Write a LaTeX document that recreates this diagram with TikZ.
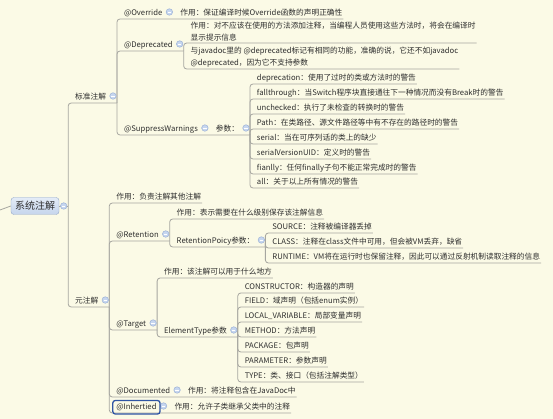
\documentclass[tikz,border=0pt]{standalone}
\usepackage{fontspec}
\setmainfont{Noto Sans CJK SC}
\usepackage{tikz}
\usetikzlibrary{positioning,calc,fit}
\definecolor{mapbg}{HTML}{FBFAE6}
\definecolor{linkgray}{HTML}{A6A6A0}
\definecolor{textgray}{HTML}{2E2E2E}
\definecolor{foldfill}{HTML}{C6D6EF}
\definecolor{foldedge}{HTML}{9DB2D6}
\definecolor{roottop}{HTML}{E4ECF7}
\definecolor{rootbot}{HTML}{C5D5EC}
\definecolor{rootedge}{HTML}{93A8C8}
\definecolor{selblue}{HTML}{2F55A4}

\begin{document}
\begin{tikzpicture}[x=1pt,y=-1pt,
  topic/.style={anchor=south west,inner xsep=1pt,inner ysep=2pt,outer sep=0pt,
               text height=6pt,text depth=1.5pt,font=\fontsize{7.7}{9}\selectfont,text=textgray},
  note/.style={anchor=south west,inner xsep=1pt,inner ysep=2pt,outer sep=0pt,align=left,
               font=\fontsize{7.7}{11.5}\selectfont,text=textgray},
  link/.style={draw=linkgray,line width=0.8pt,rounded corners=3pt},
  fold/.style={circle,draw=foldedge,fill=foldfill,inner sep=0pt,minimum size=6.5pt,line width=0.5pt,
               path picture={\draw[white,line width=0.8pt]
                 ([xshift=-1.7pt]path picture bounding box.center) -- ([xshift=1.7pt]path picture bounding box.center);}},
  root/.style={draw=rootedge,top color=roottop,bottom color=rootbot,rounded corners=3pt,
               minimum width=48pt,minimum height=17pt,inner sep=0pt,
               font=\fontsize{10}{12}\selectfont,text=textgray},
  selbox/.style={draw=selblue,line width=1.3pt,rounded corners=2.5pt,inner xsep=2.5pt,inner ysep=1pt},
]
  \fill[mapbg] (0,0) rectangle (553,419);
  \useasboundingbox (0,0) rectangle (553,419);

  % root and first level
  \node[root] (sys) at (35,206) {系统注解};
  \coordinate (lin) at (0,210);
  \coordinate (jSys) at ([xshift=9pt]sys.east);

  \node[topic] (std)  at ($(jSys |- 0,103)+(6,0)$) {标准注解};
  \node[topic] (meta) at ($(jSys |- 0,307)+(6,0)$) {元注解};
  \coordinate (jStd)  at ([xshift=10pt]std.south east);
  \coordinate (jMeta) at ([xshift=10pt]meta.south east);

  % standard annotations
  \node[topic] (ovr)  at ($(jStd |- 0,19)+(6,0)$)  {@Override};
  \node[topic] (depr) at ($(jStd |- 0,51)+(6,0)$)  {@Deprecated};
  \node[topic] (supp) at ($(jStd |- 0,135)+(6,0)$) {@SuppressWarnings};
  \coordinate (jOvr)  at ([xshift=10pt]ovr.south east);
  \coordinate (jDepr) at ([xshift=10pt]depr.south east);
  \coordinate (jSupp) at ([xshift=10pt]supp.south east);

  \node[topic] (ovr-a) at ($(jOvr)+(6,0)$) {作用：保证编译时候Override函数的声明正确性};
  \node[note] (depr-a) at ($(jDepr |- 0,43)+(6,0)$)
    {作用：对不应该在使用的方法添加注释，当编程人员使用这些方法时，将会在编译时\\显示提示信息};
  \node[note] (depr-b) at ($(jDepr |- 0,69)+(6,0)$)
    {与javadoc里的 @deprecated标记有相同的功能，准确的说，它还不如javadoc\\@deprecated，因为它不支持参数};
  \node[topic] (supp-a) at ($(jSupp)+(6,0)$) {参数：};
  \coordinate (jSuppA) at ([xshift=10pt]supp-a.south east);

  \foreach \y/\txt [count=\i] in {
      84/deprecation：使用了过时的类或方法时的警告,
      99/fallthrough：当Switch程序块直接通往下一种情况而没有Break时的警告,
      114/unchecked：执行了未检查的转换时的警告,
      129/Path：在类路径、源文件路径等中有不存在的路径时的警告,
      144/serial：当在可序列话的类上的缺少,
      159/serialVersionUID：定义时的警告,
      174/fianlly：任何finally子句不能正常完成时的警告,
      188/all：关于以上所有情况的警告}
    \node[topic] (warn-\i) at ($(jSuppA |- 0,\y)+(6,0)$) {\txt};

  % meta annotations
  \node[topic] (meta-a) at ($(jMeta |- 0,203)+(6,0)$) {作用：负责注解其他注解};
  \node[topic] (ret) at ($(jMeta |- 0,241)+(6,0)$) {@Retention};
  \node[topic] (tgt) at ($(jMeta |- 0,330)+(6,0)$) {@Target};
  \node[topic] (doc) at ($(jMeta |- 0,397)+(6,0)$) {@Documented};
  \node[topic] (inh) at ($(jMeta |- 0,413)+(6,0)$) {@Inhertied};
  \coordinate (jRet) at ([xshift=10pt]ret.south east);
  \coordinate (jTgt) at ([xshift=10pt]tgt.south east);
  \coordinate (jDoc) at ([xshift=10pt]doc.south east);
  \coordinate (jInh) at ([xshift=10pt]inh.south east);

  \node[topic] (ret-a) at ($(jRet |- 0,219)+(6,0)$) {作用：表示需要在什么级别保存该注解信息};
  \node[topic] (ret-b) at ($(jRet |- 0,247)+(6,0)$) {RetentionPoicy参数：};
  \coordinate (jRetB) at ([xshift=10pt]ret-b.south east);
  \foreach \y/\txt [count=\i] in {
      233/SOURCE：注释被编译器丢掉,
      248/CLASS：注释在class文件中可用，但会被VM丢弃，缺省,
      263/RUNTIME：VM将在运行时也保留注释，因此可以通过反射机制读取注释的信息}
    \node[topic] (pol-\i) at ($(jRetB |- 0,\y)+(6,0)$) {\txt};

  \node[topic] (tgt-a) at ($(jTgt |- 0,278)+(6,0)$) {作用：该注解可以用于什么地方};
  \node[topic] (tgt-b) at ($(jTgt |- 0,337)+(6,0)$) {ElementType参数};
  \coordinate (jTgtB) at ([xshift=10pt]tgt-b.south east);
  \foreach \y/\txt [count=\i] in {
      293/CONSTRUCTOR：构造器的声明,
      307/FIELD：域声明（包括enum实例）,
      322/LOCAL\_VARIABLE：局部变量声明,
      337/METHOD：方法声明,
      352/PACKAGE：包声明,
      367/PARAMETER：参数声明,
      382/TYPE：类、接口（包括注解类型）}
    \node[topic] (elem-\i) at ($(jTgtB |- 0,\y)+(6,0)$) {\txt};

  \node[topic] (doc-a) at ($(jDoc)+(6,0)$) {作用：将注释包含在JavaDoc中};
  \node[topic] (inh-a) at ($(jInh)+(6,0)$) {作用：允许子类继承父类中的注释};

  % connectors
  \draw[link] (lin) -- (sys.west);
  \draw[link] (sys.east) -- (jSys);
  \draw[link] (jSys) |- (std.south west) -- (jStd);
  \draw[link] (jSys) |- (meta.south west) -- (jMeta);

  \draw[link] (jStd) |- (ovr.south west) -- (jOvr) -- (ovr-a.south east);
  \draw[link] (jStd) |- (depr.south west) -- (jDepr);
  \draw[link] (jStd) |- (supp.south west) -- (jSupp) -- (jSuppA);
  \draw[link] (jDepr) |- (depr-a.south west) -- (depr-a.south east);
  \draw[link] (jDepr) |- (depr-b.south west) -- (depr-b.south east);
  \foreach \i in {1,...,8}
    \draw[link] (jSuppA) |- (warn-\i.south west) -- (warn-\i.south east);

  \draw[link] (jMeta) |- (meta-a.south west) -- (meta-a.south east);
  \draw[link] (jMeta) |- (ret.south west) -- (jRet);
  \draw[link] (jMeta) |- (tgt.south west) -- (jTgt);
  \draw[link] (jMeta) |- (doc.south west) -- (jDoc) -- (doc-a.south east);
  \draw[link] (jMeta) |- (inh.south west) -- (jInh) -- (inh-a.south east);
  \draw[link] (jRet) |- (ret-a.south west) -- (ret-a.south east);
  \draw[link] (jRet) |- (ret-b.south west) -- (jRetB);
  \foreach \i in {1,2,3}
    \draw[link] (jRetB) |- (pol-\i.south west) -- (pol-\i.south east);
  \draw[link] (jTgt) |- (tgt-a.south west) -- (tgt-a.south east);
  \draw[link] (jTgt) |- (tgt-b.south west) -- (jTgtB);
  \foreach \i in {1,...,7}
    \draw[link] (jTgtB) |- (elem-\i.south west) -- (elem-\i.south east);

  % fold markers
  \node[fold] (sys-f) at ([xshift=4.5pt]sys.east) {};
  \foreach \n in {std,meta,ovr,depr,supp,supp-a,ret,ret-b,tgt,tgt-b,doc,inh}
    \node[fold] (\n-f) at ($(\n.south east)+(6,-7)$) {};

  % selected topic
  \node[selbox,fit=(inh)] (inh-sel) {};
\end{tikzpicture}
\end{document}
